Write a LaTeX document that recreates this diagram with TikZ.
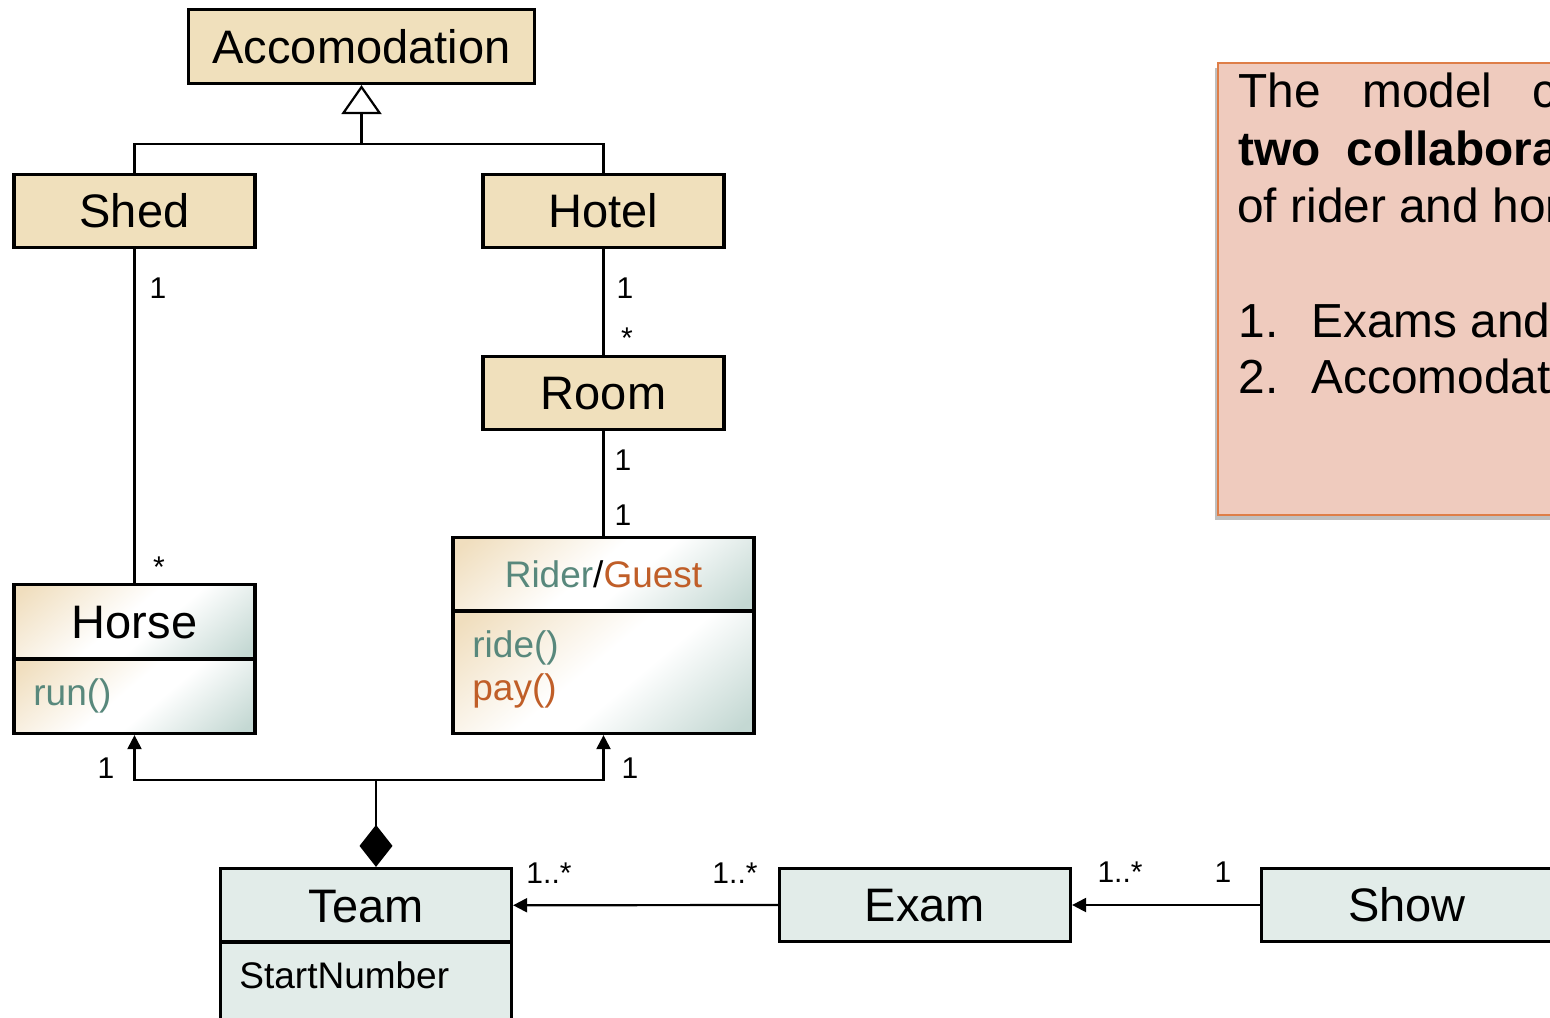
\documentclass[tikz,border=0pt]{standalone}
\usepackage{fontspec}
\setmainfont{Liberation Sans}
\usetikzlibrary{arrows.meta}
\definecolor{clstan}{RGB}{240,224,188}
\definecolor{clsgreen}{RGB}{226,236,233}
\definecolor{gradtan}{RGB}{240,222,190}
\definecolor{gradteal}{RGB}{196,216,211}
\definecolor{notefill}{RGB}{239,203,190}
\definecolor{noteedge}{RGB}{222,126,72}
\definecolor{opteal}{RGB}{88,136,124}
\definecolor{oporange}{RGB}{192,94,40}
% diagonal tan-white-teal fill of the compartments
\pgfdeclareverticalshading{cmpshade}{100bp}{color(0bp)=(gradteal); color(18bp)=(gradteal);
  color(44bp)=(white); color(53bp)=(white); color(82bp)=(gradtan); color(100bp)=(gradtan)}
\begin{document}
\begin{tikzpicture}[x=0.5pt,y=-0.5pt,
  every node/.style={inner sep=0pt},
  cls/.style={draw, line width=1.6pt, font=\fontsize{23.5}{28}\selectfont,
    text height=16.8pt, text depth=0pt},
  tanbox/.style={cls, fill=clstan},
  greenbox/.style={cls, fill=clsgreen},
  gradbox/.style={cls, shade, shading=cmpshade, shading angle=40},
  op/.style={font=\fontsize{18.5}{22}\selectfont, anchor=base west},
  mult/.style={font=\fontsize{15}{18}\selectfont, anchor=base},
  conn/.style={line width=1.1pt},
  nav/.style={conn, -{Triangle[length=7pt,width=7pt]}},
  gen/.style={conn, -{Triangle[open,length=14.5pt,width=20pt]}},
  comp/.style={conn, {Diamond[length=21pt,width=16.5pt]}-},
  notetxt/.style={font=\fontsize{23.9}{28}\selectfont, anchor=base west},
]
\useasboundingbox (0,0) rectangle (1550,1017);
\fill[white] (0,0) rectangle (1550,1017);
\clip (0,0) rectangle (1550,1017);

% --- accommodation hierarchy ---
\node[tanbox, minimum width=173pt, minimum height=37pt] (acc) at (361.5,46.5) {Accomodation};
\node[tanbox, minimum width=120.5pt, minimum height=36.5pt] (shed) at (134.5,211) {Shed};
\node[tanbox, minimum width=120.5pt, minimum height=36.5pt] (hotel) at (603.5,211) {Hotel};
\node[tanbox, minimum width=120.5pt, minimum height=36.5pt] (room) at (603.5,393) {Room};

% --- horse class ---
\node[gradbox, minimum width=120.5pt, minimum height=37.25pt] (horse) at (134.5,621.75) {Horse};
\node[gradbox, minimum width=120.5pt, minimum height=37.25pt] (horsebody) at (134.5,696.25) {};
\node[op, text=opteal] (horserun) at (33,705) {run()};

% --- rider / guest class ---
\node[gradbox, minimum width=150.5pt, minimum height=36.75pt, font=\fontsize{18.5}{22}\selectfont, text height=13.2pt]
  (rider) at (603.5,574.25) {\textcolor{opteal}{Rider}/\textcolor{oporange}{Guest}};
\node[gradbox, minimum width=150.5pt, minimum height=61.25pt] (riderbody) at (603.5,672.25) {};
\node[op, text=opteal] (riderride) at (472,657) {ride()};
\node[op, text=oporange] (riderpay) at (472,700) {pay()};

% --- team, exam, show ---
\node[greenbox, minimum width=145.5pt, minimum height=36.75pt] (team) at (366,905.25) {Team};
\node[greenbox, minimum width=145.5pt, minimum height=44pt] (teambody) at (366,986) {};
\node[op] (teamattr) at (239,988) {StartNumber};
\node[greenbox, minimum width=145.5pt, minimum height=36.5pt] (exam) at (925,905) {Exam};
\node[greenbox, minimum width=145.5pt, minimum height=36.5pt] (show) at (1407,905) {Show};

% --- generalization ---
\coordinate (gbar) at (361.5,144);
\draw[conn] (shed.north) |- (gbar) -| (hotel.north);
\draw[gen] (gbar) -- (acc.south);

% --- associations ---
\draw[conn] (shed.south) -- (horse.north);
\node[mult] (m1) at (158,298) {1};
\node[mult] (m2) at (159,577) {*};
\draw[conn] (hotel.south) -- (room.north);
\node[mult] (m3) at (625,298) {1};
\node[mult] (m4) at (627,348) {*};
\draw[conn] (room.south) -- (rider.north);
\node[mult] (m5) at (623,470) {1};
\node[mult] (m6) at (623,525) {1};

% --- composition of team ---
\coordinate (cbar) at (376,780);
\draw[comp] (cbar |- team.north) -- (cbar);
\draw[nav] (cbar) -| (horsebody.south);
\draw[nav] (cbar) -| (riderbody.south);
\node[mult] (m7) at (106,778) {1};
\node[mult] (m8) at (630,778) {1};

\draw[nav] (exam.west) -- (team.east);
\node[mult] (m9) at (549,883) {1..*};
\node[mult] (m10) at (735,883) {1..*};
\draw[nav] (show.west) -- (exam.east);
\node[mult] (m11) at (1120,882) {1..*};
\node[mult] (m12) at (1223,882) {1};

% --- note ---
\fill[black!45, opacity=0.55] (1215,68) rectangle (1700,520);
\node[draw=noteedge, fill=notefill, line width=1pt, minimum width=241pt, minimum height=226pt] (note) at (1459,289) {};
\node[notetxt] (t1a) at (1238,107) {The};
\node[notetxt] (t1b) at (1362,107) {model};
\node[notetxt] (t1c) at (1532,107) {contains};
\node[notetxt, font=\fontsize{23.9}{28}\selectfont\bfseries] (t2a) at (1238,165) {two};
\node[notetxt, font=\fontsize{23.9}{28}\selectfont\bfseries] (t2b) at (1346,165) {collaborations};
\node[notetxt] (t3) at (1237,222) {of rider and horse};
\node[notetxt] (l1n) at (1238,337) {1.};
\node[notetxt] (l1t) at (1311,337) {Exams and shows};
\node[notetxt] (l2n) at (1238,393) {2.};
\node[notetxt] (l2t) at (1311,393) {Accomodation};
\end{tikzpicture}
\end{document}
